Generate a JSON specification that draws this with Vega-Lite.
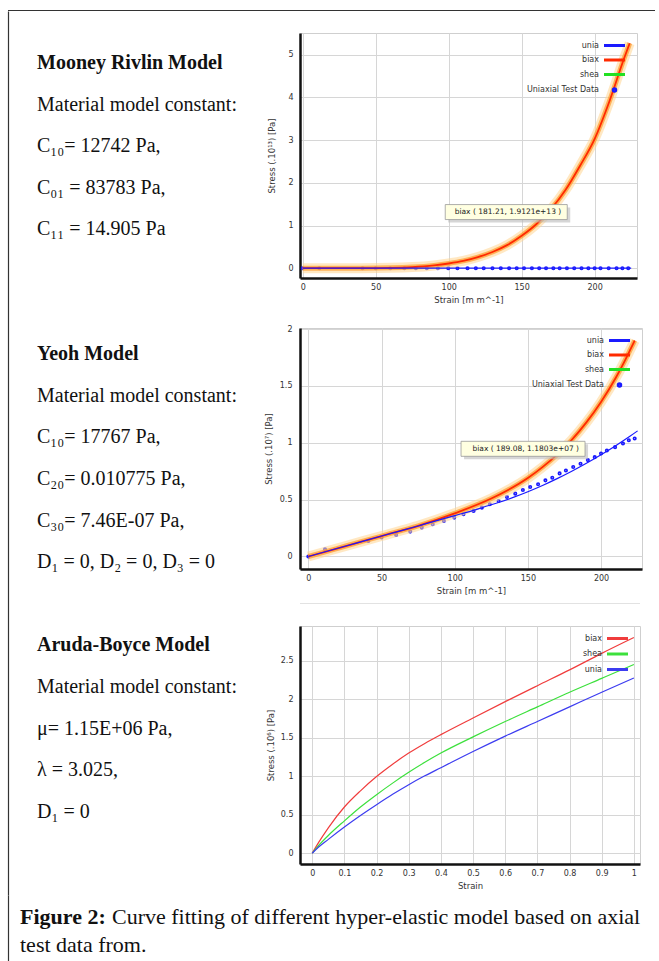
{
  "$schema": "https://vega.github.io/schema/vega-lite/v6.json",
  "padding": {"left": 8, "top": 10, "right": 0, "bottom": 0},
  "background": "white",
  "spacing": 0,
  "config": {
    "view": {"stroke": "#cfcfcf"},
    "font": "DejaVu Sans",
    "axis": {"labelFont": "DejaVu Sans", "labelFontSize": 8, "labelColor": "#333333", "titleFont": "DejaVu Sans", "titleFontSize": 8.5, "titleFontWeight": "normal", "titleColor": "#333333", "gridColor": "#d6d6d6", "gridWidth": 1, "domainColor": "#111111", "domainWidth": 2.5, "ticks": false},
    "legend": {"labelFont": "DejaVu Sans", "labelFontSize": 8, "labelColor": "#333333", "padding": 0, "offset": 6, "labelAlign": "right", "labelOffset": -22, "symbolSize": 100, "symbolType": "M-2.1,0H2.1", "symbolStrokeWidth": 3, "rowPadding": 1.5}
  },
  "vconcat": [
    {"width": 647, "height": 1, "data": {"values": []}, "mark": "point", "view": {"stroke": null, "fill": "#333333"}},
    {
      "hconcat": [
        {
          "width": 242.4, "height": 884,
          "view": {"stroke": null},
          "data": {"values": [
            {"line": 0, "role": "heading", "text": "Mooney Rivlin Model"},
            {"line": 1, "role": "body", "text": "Material model constant:"},
            {"line": 2, "role": "body", "text": "C₁₀= 12742 Pa,"},
            {"line": 3, "role": "body", "text": "C₀₁ = 83783 Pa,"},
            {"line": 4, "role": "body", "text": "C₁₁ = 14.905 Pa"},
            {"line": 7, "role": "heading", "text": "Yeoh Model"},
            {"line": 8, "role": "body", "text": "Material model constant:"},
            {"line": 9, "role": "body", "text": "C₁₀= 17767 Pa,"},
            {"line": 10, "role": "body", "text": "C₂₀= 0.010775 Pa,"},
            {"line": 11, "role": "body", "text": "C₃₀= 7.46E-07 Pa,"},
            {"line": 12, "role": "body", "text": "D₁ = 0, D₂ = 0, D₃ = 0"},
            {"line": 14, "role": "heading", "text": "Aruda-Boyce Model"},
            {"line": 15, "role": "body", "text": "Material model constant:"},
            {"line": 16, "role": "body", "text": "μ= 1.15E+06 Pa,"},
            {"line": 17, "role": "body", "text": "λ = 3.025,"},
            {"line": 18, "role": "body", "text": "D₁ = 0"}
          ]},
          "encoding": {
            "y": {"field": "line", "type": "quantitative", "scale": {"domain": [-1.25, 20], "reverse": true, "nice": false, "zero": false}, "axis": {"orient": "left", "domain": true, "domainColor": "#333333", "domainWidth": 1.2, "labels": false, "ticks": false, "grid": false, "title": null}},
            "text": {"field": "text"}
          },
          "layer": [
            {"transform": [{"filter": "datum.role === 'heading'"}], "mark": {"type": "text", "align": "left", "baseline": "middle", "x": 0, "dx": 29, "font": "Liberation Serif", "fontSize": 20, "fontWeight": "bold", "color": "#111111"}},
            {"transform": [{"filter": "datum.role === 'body'"}], "mark": {"type": "text", "align": "left", "baseline": "middle", "x": 0, "dx": 29, "font": "Liberation Serif", "fontSize": 20, "color": "#111111"}}
          ]
        },
        {
          "spacing": 0,
          "resolve": {"scale": {"color": "independent", "shape": "independent"}, "legend": {"color": "independent", "shape": "independent"}},
          "vconcat": [
            {"width": 10, "height": 11, "data": {"values": []}, "mark": "point", "view": {"stroke": null}},
            {
              "width": 337, "height": 245,
              "data": {"values": [
                {"series": "unia", "strain": 0, "stress": 0}, {"series": "unia", "strain": 225, "stress": 0},
                {"series": "biax", "strain": 0, "stress": 0}, {"series": "biax", "strain": 20, "stress": 0}, {"series": "biax", "strain": 40, "stress": 0.001}, {"series": "biax", "strain": 60, "stress": 0.008}, {"series": "biax", "strain": 75, "stress": 0.025}, {"series": "biax", "strain": 90, "stress": 0.065}, {"series": "biax", "strain": 100, "stress": 0.11}, {"series": "biax", "strain": 110, "stress": 0.17}, {"series": "biax", "strain": 120, "stress": 0.26}, {"series": "biax", "strain": 130, "stress": 0.38}, {"series": "biax", "strain": 140, "stress": 0.54}, {"series": "biax", "strain": 150, "stress": 0.76}, {"series": "biax", "strain": 160, "stress": 1.03}, {"series": "biax", "strain": 170, "stress": 1.38}, {"series": "biax", "strain": 180, "stress": 1.83}, {"series": "biax", "strain": 190, "stress": 2.4}, {"series": "biax", "strain": 200, "stress": 3.03}, {"series": "biax", "strain": 210, "stress": 3.9}, {"series": "biax", "strain": 220, "stress": 4.9}, {"series": "biax", "strain": 224, "stress": 5.27},
                {"series": "Uniaxial Test Data", "strain": 0, "stress": 0}, {"series": "Uniaxial Test Data", "strain": 11.4, "stress": 0}, {"series": "Uniaxial Test Data", "strain": 41, "stress": 0}, {"series": "Uniaxial Test Data", "strain": 50, "stress": 0}, {"series": "Uniaxial Test Data", "strain": 60, "stress": 0}, {"series": "Uniaxial Test Data", "strain": 69.6, "stress": 0}, {"series": "Uniaxial Test Data", "strain": 77.5, "stress": 0}, {"series": "Uniaxial Test Data", "strain": 85, "stress": 0}, {"series": "Uniaxial Test Data", "strain": 92.6, "stress": 0}, {"series": "Uniaxial Test Data", "strain": 99.7, "stress": 0}, {"series": "Uniaxial Test Data", "strain": 106, "stress": 0}, {"series": "Uniaxial Test Data", "strain": 112.9, "stress": 0}, {"series": "Uniaxial Test Data", "strain": 118.6, "stress": 0}, {"series": "Uniaxial Test Data", "strain": 124, "stress": 0}, {"series": "Uniaxial Test Data", "strain": 130, "stress": 0}, {"series": "Uniaxial Test Data", "strain": 135.7, "stress": 0}, {"series": "Uniaxial Test Data", "strain": 141.4, "stress": 0}, {"series": "Uniaxial Test Data", "strain": 146.6, "stress": 0}, {"series": "Uniaxial Test Data", "strain": 151.6, "stress": 0}, {"series": "Uniaxial Test Data", "strain": 157, "stress": 0}, {"series": "Uniaxial Test Data", "strain": 162, "stress": 0}, {"series": "Uniaxial Test Data", "strain": 166.7, "stress": 0}, {"series": "Uniaxial Test Data", "strain": 171.7, "stress": 0}, {"series": "Uniaxial Test Data", "strain": 176, "stress": 0}, {"series": "Uniaxial Test Data", "strain": 181, "stress": 0}, {"series": "Uniaxial Test Data", "strain": 186, "stress": 0}, {"series": "Uniaxial Test Data", "strain": 191, "stress": 0}, {"series": "Uniaxial Test Data", "strain": 195.7, "stress": 0}, {"series": "Uniaxial Test Data", "strain": 200, "stress": 0}, {"series": "Uniaxial Test Data", "strain": 204, "stress": 0}, {"series": "Uniaxial Test Data", "strain": 209.6, "stress": 0}, {"series": "Uniaxial Test Data", "strain": 215, "stress": 0}, {"series": "Uniaxial Test Data", "strain": 219, "stress": 0}, {"series": "Uniaxial Test Data", "strain": 223, "stress": 0}
              ]},
              "encoding": {
                "x": {"field": "strain", "type": "quantitative", "scale": {"domain": [-1.85, 229], "nice": false, "zero": false}, "axis": {"values": [0, 50, 100, 150, 200], "title": "Strain  [m m^-1]", "labelPadding": 5, "titlePadding": 4}},
                "y": {"field": "stress", "type": "quantitative", "scale": {"domain": [-0.23, 5.51], "nice": false, "zero": false}, "axis": {"values": [0, 1, 2, 3, 4, 5], "format": "~g", "title": "Stress  (.10¹³)  [Pa]", "labelPadding": 7, "titlePadding": 11}}
              },
              "layer": [
                {"transform": [{"filter": "datum.series === 'Uniaxial Test Data'"}], "mark": {"type": "point", "filled": false, "size": 100, "strokeWidth": 1.6, "opacity": 1},
                 "encoding": {
                   "color": {"field": "series", "type": "nominal", "scale": {"domain": ["unia", "biax", "shea", "Uniaxial Test Data"], "range": ["#1a1aff", "#ff2a00", "#22e022", "#1a1aff"]}, "legend": {"title": null, "orient": "top-right"}},
                   "shape": {"field": "series", "type": "nominal", "scale": {"domain": ["unia", "biax", "shea", "Uniaxial Test Data"], "range": ["M-2.1,0H2.1", "M-2.1,0H2.1", "M-2.1,0H2.1", "M-0.25,0A0.25,0.25,0,1,1,0.25,0A0.25,0.25,0,1,1,-0.25,0Z"]}, "legend": {"title": null, "orient": "top-right"}}
                 }},
                {"transform": [{"filter": "datum.series === 'biax'"}], "mark": {"type": "line", "color": "#ffd591", "strokeWidth": 10, "opacity": 0.55, "interpolate": "monotone"}},
                {"transform": [{"filter": "datum.series === 'biax'"}], "mark": {"type": "line", "color": "#ff9a2a", "strokeWidth": 5, "opacity": 0.7, "interpolate": "monotone"}},
                {"transform": [{"filter": "datum.series === 'biax'"}], "mark": {"type": "line", "strokeWidth": 1.8, "interpolate": "monotone"},
                 "encoding": {"color": {"field": "series", "type": "nominal", "scale": {"domain": ["unia", "biax", "shea", "Uniaxial Test Data"], "range": ["#1a1aff", "#ff2a00", "#22e022", "#1a1aff"]}, "legend": {"title": null, "orient": "top-right"}}}},
                {"transform": [{"filter": "datum.series === 'unia'"}], "mark": {"type": "line", "strokeWidth": 1.2},
                 "encoding": {"color": {"field": "series", "type": "nominal", "scale": {"domain": ["unia", "biax", "shea", "Uniaxial Test Data"], "range": ["#1a1aff", "#ff2a00", "#22e022", "#1a1aff"]}, "legend": {"title": null, "orient": "top-right"}}}},
                {"data": {"values": [{"strain": 181.21, "stress": 1.9121, "label": "biax ( 181.21, 1.9121e+13 )"}]}, "mark": {"type": "rect", "width": 122, "height": 15, "xOffset": -58, "yOffset": 28.5, "fill": "#bbbbbb", "opacity": 0.6}},
                {"data": {"values": [{"strain": 181.21, "stress": 1.9121, "label": "biax ( 181.21, 1.9121e+13 )"}]}, "mark": {"type": "rect", "width": 122, "height": 15, "xOffset": -61, "yOffset": 25.5, "fill": "#ffffe1", "stroke": "#999999", "strokeWidth": 0.8}},
                {"data": {"values": [{"strain": 181.21, "stress": 1.9121, "label": "biax ( 181.21, 1.9121e+13 )"}]}, "mark": {"type": "text", "align": "right", "baseline": "middle", "dx": -6, "dy": 25.5, "fontSize": 7.5, "font": "DejaVu Sans", "color": "#222222"}, "encoding": {"text": {"field": "label"}}}
              ]
            },
            {"width": 10, "height": 16, "data": {"values": []}, "mark": "point", "view": {"stroke": null}},
            {
              "width": 342, "height": 241,
              "data": {"values": [
                {"series": "unia", "strain": 0, "stress": 0}, {"series": "unia", "strain": 25, "stress": 0.09}, {"series": "unia", "strain": 50, "stress": 0.18}, {"series": "unia", "strain": 75, "stress": 0.268}, {"series": "unia", "strain": 100, "stress": 0.36}, {"series": "unia", "strain": 110, "stress": 0.395}, {"series": "unia", "strain": 120, "stress": 0.435}, {"series": "unia", "strain": 130, "stress": 0.475}, {"series": "unia", "strain": 140, "stress": 0.52}, {"series": "unia", "strain": 150, "stress": 0.57}, {"series": "unia", "strain": 160, "stress": 0.625}, {"series": "unia", "strain": 170, "stress": 0.685}, {"series": "unia", "strain": 180, "stress": 0.75}, {"series": "unia", "strain": 190, "stress": 0.82}, {"series": "unia", "strain": 200, "stress": 0.895}, {"series": "unia", "strain": 210, "stress": 0.975}, {"series": "unia", "strain": 220, "stress": 1.06}, {"series": "unia", "strain": 225, "stress": 1.105},
                {"series": "biax", "strain": 0, "stress": 0}, {"series": "biax", "strain": 25, "stress": 0.09}, {"series": "biax", "strain": 50, "stress": 0.18}, {"series": "biax", "strain": 75, "stress": 0.27}, {"series": "biax", "strain": 100, "stress": 0.38}, {"series": "biax", "strain": 125, "stress": 0.51}, {"series": "biax", "strain": 150, "stress": 0.69}, {"series": "biax", "strain": 160, "stress": 0.786}, {"series": "biax", "strain": 170, "stress": 0.896}, {"series": "biax", "strain": 180, "stress": 1.026}, {"series": "biax", "strain": 190, "stress": 1.18}, {"series": "biax", "strain": 200, "stress": 1.36}, {"series": "biax", "strain": 210, "stress": 1.57}, {"series": "biax", "strain": 215, "stress": 1.69}, {"series": "biax", "strain": 220, "stress": 1.82}, {"series": "biax", "strain": 223, "stress": 1.9},
                {"series": "Uniaxial Test Data", "strain": 0, "stress": 0}, {"series": "Uniaxial Test Data", "strain": 11.4, "stress": 0.064}, {"series": "Uniaxial Test Data", "strain": 41, "stress": 0.137}, {"series": "Uniaxial Test Data", "strain": 50, "stress": 0.167}, {"series": "Uniaxial Test Data", "strain": 60, "stress": 0.19}, {"series": "Uniaxial Test Data", "strain": 69.6, "stress": 0.219}, {"series": "Uniaxial Test Data", "strain": 77.5, "stress": 0.254}, {"series": "Uniaxial Test Data", "strain": 85, "stress": 0.284}, {"series": "Uniaxial Test Data", "strain": 92.6, "stress": 0.313}, {"series": "Uniaxial Test Data", "strain": 99.7, "stress": 0.342}, {"series": "Uniaxial Test Data", "strain": 106, "stress": 0.371}, {"series": "Uniaxial Test Data", "strain": 112.9, "stress": 0.401}, {"series": "Uniaxial Test Data", "strain": 118.6, "stress": 0.43}, {"series": "Uniaxial Test Data", "strain": 124, "stress": 0.459}, {"series": "Uniaxial Test Data", "strain": 130, "stress": 0.488}, {"series": "Uniaxial Test Data", "strain": 135.7, "stress": 0.523}, {"series": "Uniaxial Test Data", "strain": 141.4, "stress": 0.553}, {"series": "Uniaxial Test Data", "strain": 146.6, "stress": 0.585}, {"series": "Uniaxial Test Data", "strain": 151.6, "stress": 0.611}, {"series": "Uniaxial Test Data", "strain": 157, "stress": 0.635}, {"series": "Uniaxial Test Data", "strain": 162, "stress": 0.67}, {"series": "Uniaxial Test Data", "strain": 166.7, "stress": 0.693}, {"series": "Uniaxial Test Data", "strain": 171.7, "stress": 0.731}, {"series": "Uniaxial Test Data", "strain": 176, "stress": 0.757}, {"series": "Uniaxial Test Data", "strain": 181, "stress": 0.787}, {"series": "Uniaxial Test Data", "strain": 186, "stress": 0.816}, {"series": "Uniaxial Test Data", "strain": 191, "stress": 0.848}, {"series": "Uniaxial Test Data", "strain": 195.7, "stress": 0.874}, {"series": "Uniaxial Test Data", "strain": 200, "stress": 0.906}, {"series": "Uniaxial Test Data", "strain": 204, "stress": 0.933}, {"series": "Uniaxial Test Data", "strain": 209.6, "stress": 0.962}, {"series": "Uniaxial Test Data", "strain": 215, "stress": 0.994}, {"series": "Uniaxial Test Data", "strain": 219, "stress": 1.023}, {"series": "Uniaxial Test Data", "strain": 223, "stress": 1.038}
              ]},
              "encoding": {
                "x": {"field": "strain", "type": "quantitative", "scale": {"domain": [-5.7, 228], "nice": false, "zero": false}, "axis": {"values": [0, 50, 100, 150, 200], "title": "Strain  [m m^-1]", "labelPadding": 5, "titlePadding": 4}},
                "y": {"field": "stress", "type": "quantitative", "scale": {"domain": [-0.11, 2.01], "nice": false, "zero": false}, "axis": {"values": [0, 0.5, 1, 1.5, 2], "format": "~g", "title": "Stress  (.10⁷)  [Pa]", "labelPadding": 8, "titlePadding": 6}}
              },
              "layer": [
                {"transform": [{"filter": "datum.series === 'Uniaxial Test Data'"}], "mark": {"type": "point", "filled": false, "size": 100, "strokeWidth": 1.6, "opacity": 1},
                 "encoding": {
                   "color": {"field": "series", "type": "nominal", "scale": {"domain": ["unia", "biax", "shea", "Uniaxial Test Data"], "range": ["#1a1aff", "#ff2a00", "#22e022", "#1a1aff"]}, "legend": {"title": null, "orient": "top-right"}},
                   "shape": {"field": "series", "type": "nominal", "scale": {"domain": ["unia", "biax", "shea", "Uniaxial Test Data"], "range": ["M-2.1,0H2.1", "M-2.1,0H2.1", "M-2.1,0H2.1", "M-0.25,0A0.25,0.25,0,1,1,0.25,0A0.25,0.25,0,1,1,-0.25,0Z"]}, "legend": {"title": null, "orient": "top-right"}}
                 }},
                {"transform": [{"filter": "datum.series === 'biax'"}], "mark": {"type": "line", "color": "#ffd591", "strokeWidth": 10, "opacity": 0.55, "interpolate": "monotone"}},
                {"transform": [{"filter": "datum.series === 'biax'"}], "mark": {"type": "line", "color": "#ff9a2a", "strokeWidth": 5, "opacity": 0.7, "interpolate": "monotone"}},
                {"transform": [{"filter": "datum.series === 'biax'"}], "mark": {"type": "line", "strokeWidth": 1.8, "interpolate": "monotone"},
                 "encoding": {"color": {"field": "series", "type": "nominal", "scale": {"domain": ["unia", "biax", "shea", "Uniaxial Test Data"], "range": ["#1a1aff", "#ff2a00", "#22e022", "#1a1aff"]}, "legend": {"title": null, "orient": "top-right"}}}},
                {"transform": [{"filter": "datum.series === 'unia'"}], "mark": {"type": "line", "strokeWidth": 1.2, "interpolate": "monotone"},
                 "encoding": {"color": {"field": "series", "type": "nominal", "scale": {"domain": ["unia", "biax", "shea", "Uniaxial Test Data"], "range": ["#1a1aff", "#ff2a00", "#22e022", "#1a1aff"]}, "legend": {"title": null, "orient": "top-right"}}}},
                {"data": {"values": [{"strain": 189.08, "stress": 1.1803, "label": "biax ( 189.08, 1.1803e+07 )"}]}, "mark": {"type": "rect", "width": 124, "height": 15, "xOffset": -59, "yOffset": 29.5, "fill": "#bbbbbb", "opacity": 0.6}},
                {"data": {"values": [{"strain": 189.08, "stress": 1.1803, "label": "biax ( 189.08, 1.1803e+07 )"}]}, "mark": {"type": "rect", "width": 124, "height": 15, "xOffset": -62, "yOffset": 26.5, "fill": "#ffffe1", "stroke": "#999999", "strokeWidth": 0.8}},
                {"data": {"values": [{"strain": 189.08, "stress": 1.1803, "label": "biax ( 189.08, 1.1803e+07 )"}]}, "mark": {"type": "text", "align": "right", "baseline": "middle", "dx": -6, "dy": 26.5, "fontSize": 7.5, "font": "DejaVu Sans", "color": "#222222"}, "encoding": {"text": {"field": "label"}}}
              ]
            },
            {"width": 10, "height": 8, "data": {"values": []}, "mark": "point", "view": {"stroke": null}},
            {"width": 340, "height": 1, "data": {"values": []}, "mark": "point", "view": {"stroke": null, "fill": "#e2e2e2"}},
            {"width": 10, "height": 21, "data": {"values": []}, "mark": "point", "view": {"stroke": null}},
            {
              "width": 340, "height": 238,
              "data": {"values": [
                {"series": "biax", "strain": 0, "stress": 0}, {"series": "biax", "strain": 0.02, "stress": 0.14}, {"series": "biax", "strain": 0.05, "stress": 0.33}, {"series": "biax", "strain": 0.1, "stress": 0.6}, {"series": "biax", "strain": 0.15, "stress": 0.81}, {"series": "biax", "strain": 0.2, "stress": 0.995}, {"series": "biax", "strain": 0.25, "stress": 1.155}, {"series": "biax", "strain": 0.3, "stress": 1.3}, {"series": "biax", "strain": 0.35, "stress": 1.425}, {"series": "biax", "strain": 0.4, "stress": 1.54}, {"series": "biax", "strain": 0.5, "stress": 1.756}, {"series": "biax", "strain": 0.6, "stress": 1.968}, {"series": "biax", "strain": 0.7, "stress": 2.175}, {"series": "biax", "strain": 0.8, "stress": 2.38}, {"series": "biax", "strain": 0.9, "stress": 2.595}, {"series": "biax", "strain": 1, "stress": 2.8},
                {"series": "shea", "strain": 0, "stress": 0}, {"series": "shea", "strain": 0.02, "stress": 0.1}, {"series": "shea", "strain": 0.05, "stress": 0.23}, {"series": "shea", "strain": 0.1, "stress": 0.42}, {"series": "shea", "strain": 0.15, "stress": 0.6}, {"series": "shea", "strain": 0.2, "stress": 0.76}, {"series": "shea", "strain": 0.25, "stress": 0.91}, {"series": "shea", "strain": 0.3, "stress": 1.05}, {"series": "shea", "strain": 0.35, "stress": 1.18}, {"series": "shea", "strain": 0.4, "stress": 1.3}, {"series": "shea", "strain": 0.5, "stress": 1.51}, {"series": "shea", "strain": 0.6, "stress": 1.71}, {"series": "shea", "strain": 0.7, "stress": 1.9}, {"series": "shea", "strain": 0.8, "stress": 2.09}, {"series": "shea", "strain": 0.9, "stress": 2.27}, {"series": "shea", "strain": 1, "stress": 2.45},
                {"series": "unia", "strain": 0, "stress": 0}, {"series": "unia", "strain": 0.02, "stress": 0.08}, {"series": "unia", "strain": 0.05, "stress": 0.18}, {"series": "unia", "strain": 0.1, "stress": 0.34}, {"series": "unia", "strain": 0.15, "stress": 0.49}, {"series": "unia", "strain": 0.2, "stress": 0.63}, {"series": "unia", "strain": 0.25, "stress": 0.765}, {"series": "unia", "strain": 0.3, "stress": 0.89}, {"series": "unia", "strain": 0.35, "stress": 1.005}, {"series": "unia", "strain": 0.4, "stress": 1.11}, {"series": "unia", "strain": 0.5, "stress": 1.32}, {"series": "unia", "strain": 0.6, "stress": 1.52}, {"series": "unia", "strain": 0.7, "stress": 1.71}, {"series": "unia", "strain": 0.8, "stress": 1.9}, {"series": "unia", "strain": 0.9, "stress": 2.09}, {"series": "unia", "strain": 1, "stress": 2.275}
              ]},
              "mark": {"type": "line", "strokeWidth": 1.2, "interpolate": "monotone"},
              "encoding": {
                "x": {"field": "strain", "type": "quantitative", "scale": {"domain": [-0.038, 1.019], "nice": false, "zero": false}, "axis": {"values": [0, 0.1, 0.2, 0.3, 0.4, 0.5, 0.6, 0.7, 0.8, 0.9, 1], "format": "~g", "title": "Strain", "labelPadding": 5, "titlePadding": 4}},
                "y": {"field": "stress", "type": "quantitative", "scale": {"domain": [-0.14, 2.95], "nice": false, "zero": false}, "axis": {"values": [0, 0.5, 1, 1.5, 2, 2.5], "format": "~g", "title": "Stress  (.10⁶)  [Pa]", "labelPadding": 7, "titlePadding": 5}},
                "color": {"field": "series", "type": "nominal", "scale": {"domain": ["biax", "shea", "unia"], "range": ["#f03c3c", "#3ce03c", "#3c3cf0"]}, "legend": {"title": null, "orient": "top-right", "rowPadding": 2.5}}
              }
            }
          ]
        }
      ],
      "spacing": 12
    },
    {
      "width": 642, "height": 66,
      "view": {"stroke": null},
      "data": {"values": [
        {"line": 0, "role": "label", "text": "Figure 2:"},
        {"line": 0, "role": "lead", "text": "Curve fitting of different hyper-elastic model based on axial"},
        {"line": 1, "role": "body", "text": "test data from."}
      ]},
      "encoding": {
        "y": {"field": "line", "type": "quantitative", "scale": {"domain": [-0.7857, 1.5714], "reverse": true, "nice": false, "zero": false}, "axis": {"orient": "left", "domain": true, "domainColor": "#333333", "domainWidth": 1.2, "labels": false, "ticks": false, "grid": false, "title": null}},
        "text": {"field": "text"}
      },
      "layer": [
        {"transform": [{"filter": "datum.role === 'label'"}], "mark": {"type": "text", "align": "left", "baseline": "middle", "x": 0, "dx": 12, "font": "Liberation Serif", "fontSize": 22, "fontWeight": "bold", "color": "#111111"}},
        {"transform": [{"filter": "datum.role === 'lead'"}], "mark": {"type": "text", "align": "left", "baseline": "middle", "x": 0, "dx": 104, "font": "Liberation Serif", "fontSize": 22, "color": "#111111"}},
        {"transform": [{"filter": "datum.role === 'body'"}], "mark": {"type": "text", "align": "left", "baseline": "middle", "x": 0, "dx": 12, "font": "Liberation Serif", "fontSize": 22, "color": "#111111"}}
      ]
    }
  ]
}
